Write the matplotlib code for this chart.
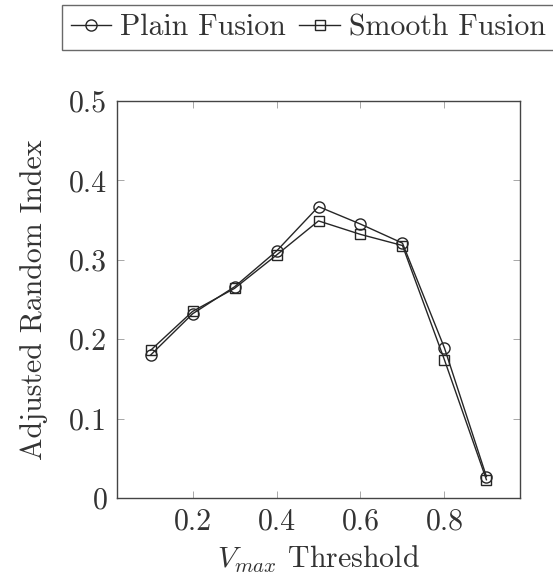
import matplotlib
matplotlib.use("Agg")
import matplotlib.pyplot as plt

# Adjusted Random Index vs V_max threshold for the two fusion variants
thresholds = [0.1, 0.2, 0.3, 0.4, 0.5, 0.6, 0.7, 0.8, 0.9]
plain_fusion = [0.180, 0.232, 0.266, 0.311, 0.367, 0.345, 0.321, 0.189, 0.027]
smooth_fusion = [0.186, 0.235, 0.264, 0.306, 0.349, 0.332, 0.318, 0.174, 0.023]

x_ticks = [0.2, 0.4, 0.6, 0.8]
x_tick_labels = ["0.2", "0.4", "0.6", "0.8"]
y_ticks = [0, 0.1, 0.2, 0.3, 0.4, 0.5]
y_tick_labels = ["0", "0.1", "0.2", "0.3", "0.4", "0.5"]

plt.rcParams["font.family"] = ["cmr10", "DejaVu Serif"]
plt.rcParams["mathtext.fontset"] = "cm"
plt.rcParams["axes.formatter.use_mathtext"] = True

FS = 21.5
W, H = 553, 578
fig = plt.figure(figsize=(W / 100, H / 100), dpi=100)
left, right, top, bottom = 117, 520, 101, 498
ax = fig.add_axes([left / W, 1 - bottom / H, (right - left) / W, (bottom - top) / H])

ink = "#262626"
ax.plot(thresholds, plain_fusion, color=ink, lw=1.0, marker="o", ms=8,
        mfc="none", mec=ink, mew=1.0, label="Plain Fusion")
ax.plot(thresholds, smooth_fusion, color=ink, lw=1.0, marker="s", ms=7.5,
        mfc="none", mec=ink, mew=1.0, label="Smooth Fusion")

ax.set_xlim(0.02, 0.98)
ax.set_ylim(0, 0.5)
ax.set_xticks(x_ticks)
ax.set_xticklabels(x_tick_labels)
ax.set_yticks(y_ticks)
ax.set_yticklabels(y_tick_labels)
ax.tick_params(direction="in", length=5, width=0.6, color="#999999",
               top=True, right=True, labelsize=FS, labelcolor="#333333", pad=7)
for s in ax.spines.values():
    s.set_color("#444444")
    s.set_linewidth(1.0)

ax.set_xlabel(r"$V_{max}$ Threshold", fontsize=FS, color="#333333", labelpad=6)
ax.set_ylabel("Adjusted Random Index", fontsize=FS, color="#333333", labelpad=15)

leg = fig.legend(loc="upper left", bbox_to_anchor=(62 / W, 1 - 5 / H),
                 ncol=2, fontsize=FS, frameon=True, fancybox=False,
                 handlelength=1.35, handletextpad=0.3, columnspacing=0.45,
                 borderpad=0.3, borderaxespad=0)
leg.get_frame().set_edgecolor("#444444")
leg.get_frame().set_linewidth(1.0)
for t in leg.get_texts():
    t.set_color("#333333")

fig.savefig("out.png", dpi=100, facecolor="white")
